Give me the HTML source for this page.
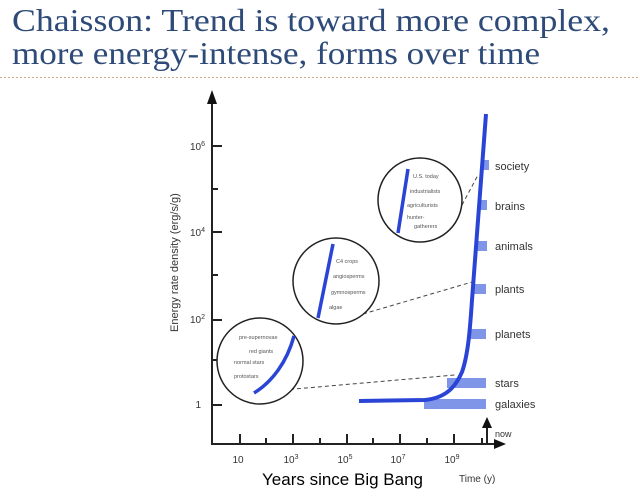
<!DOCTYPE html>
<html><head><style>body{margin:0;background:#fff}svg{display:block}</style></head>
<body>
<svg width="640" height="496" xmlns="http://www.w3.org/2000/svg" font-family="Liberation Sans, sans-serif">
<text x="12" y="31" font-family="Liberation Serif, serif" font-size="32" fill="#2e4a78" textLength="598" lengthAdjust="spacingAndGlyphs">Chaisson: Trend is toward more complex,</text>
<text x="12" y="64" font-family="Liberation Serif, serif" font-size="32" fill="#2e4a78" textLength="528" lengthAdjust="spacingAndGlyphs">more energy-intense, forms over time</text>
<line x1="0" y1="77.5" x2="640" y2="77.5" stroke="#d8a88a" stroke-width="1" stroke-dasharray="2,2"/>
<g stroke="#222" stroke-width="2" fill="none">
<line x1="212" y1="100" x2="212" y2="444"/>
<line x1="211" y1="444" x2="498" y2="444"/>
<line x1="212" y1="146" x2="222" y2="146"/><line x1="212" y1="189" x2="218" y2="189"/>
<line x1="212" y1="232" x2="222" y2="232"/><line x1="212" y1="275" x2="218" y2="275"/>
<line x1="212" y1="320" x2="222" y2="320"/><line x1="212" y1="360" x2="218" y2="360"/>
<line x1="212" y1="405" x2="222" y2="405"/>
<line x1="240" y1="434" x2="240" y2="444"/><line x1="266" y1="438" x2="266" y2="444"/>
<line x1="293" y1="434" x2="293" y2="444"/><line x1="320" y1="438" x2="320" y2="444"/>
<line x1="347" y1="434" x2="347" y2="444"/><line x1="373" y1="438" x2="373" y2="444"/>
<line x1="400" y1="434" x2="400" y2="444"/><line x1="427" y1="438" x2="427" y2="444"/>
<line x1="454" y1="434" x2="454" y2="444"/><line x1="482" y1="438" x2="482" y2="444"/>
<line x1="487" y1="444" x2="487" y2="425"/>
</g>
<polygon points="212,90 207,104 217,104" fill="#111"/>
<polygon points="506,444 494,439 494,449" fill="#111"/>
<polygon points="487,417 482,428 492,428" fill="#111"/>
<g font-size="10" fill="#333">
<text x="205" y="150" text-anchor="end">10<tspan font-size="7" dy="-4">6</tspan></text>
<text x="205" y="236" text-anchor="end">10<tspan font-size="7" dy="-4">4</tspan></text>
<text x="205" y="323" text-anchor="end">10<tspan font-size="7" dy="-4">2</tspan></text>
<text x="201" y="408" text-anchor="end">1</text>
<text x="238" y="463" text-anchor="middle">10</text>
<text x="291" y="463" text-anchor="middle">10<tspan font-size="7" dy="-4">3</tspan></text>
<text x="345" y="463" text-anchor="middle">10<tspan font-size="7" dy="-4">5</tspan></text>
<text x="398" y="463" text-anchor="middle">10<tspan font-size="7" dy="-4">7</tspan></text>
<text x="452" y="463" text-anchor="middle">10<tspan font-size="7" dy="-4">9</tspan></text>
<text x="459" y="482">Time (y)</text>
<text x="495" y="437" font-size="9">now</text>
<text transform="translate(178,332) rotate(-90)" font-size="11">Energy rate density (erg/s/g)</text>
</g>
<text x="262" y="485" font-size="17" fill="#000">Years since Big Bang</text>
<g fill="#7f95e8">
<rect x="424" y="399" width="62" height="10"/>
<rect x="447" y="378" width="39" height="10"/>
<rect x="468" y="329" width="18" height="10"/>
<rect x="472" y="284" width="14" height="10"/>
<rect x="477" y="241" width="10" height="10"/>
<rect x="480" y="200" width="7" height="10"/>
<rect x="482" y="160" width="7" height="10"/>
</g>
<g font-size="11" fill="#333">
<text x="495" y="170">society</text><text x="495" y="210">brains</text>
<text x="495" y="250">animals</text><text x="495" y="293">plants</text>
<text x="495" y="338">planets</text><text x="495" y="387">stars</text>
<text x="495" y="408">galaxies</text>
</g>
<path d="M359,401 L425,400 C445,398 455,388 462,372 C468,355 470,330 472,300 L486,114" stroke="#2a45d6" stroke-width="4" fill="none"/>
<g stroke="#444" stroke-width="1" stroke-dasharray="4,3">
<line x1="283" y1="390" x2="455" y2="375"/>
<line x1="363" y1="314" x2="472" y2="282"/>
<line x1="462" y1="205" x2="478" y2="175"/>
</g>
<g stroke="#222" stroke-width="1.5" fill="#fff">
<circle cx="260" cy="361" r="43"/>
<circle cx="336" cy="281" r="43"/>
<circle cx="420" cy="200" r="42"/>
</g>
<g stroke="#2a45d6" stroke-width="3.5" fill="none">
<path d="M254,393 C272,382 287,362 294,336"/>
<line x1="333" y1="244" x2="318" y2="318"/>
<line x1="408" y1="169" x2="398" y2="233"/>
</g>
<g font-size="5.5" fill="#555">
<text x="239" y="339">pre-supernovae</text>
<text x="249" y="353">red giants</text>
<text x="234" y="364">normal stars</text>
<text x="234" y="378">protostars</text>
<text x="336" y="263">C4 crops</text>
<text x="333" y="278">angiosperms</text>
<text x="331" y="294">gymnosperms</text>
<text x="329" y="309">algae</text>
<text x="413" y="178">U.S. today</text>
<text x="410" y="193">industrialists</text>
<text x="407" y="207">agriculturists</text>
<text x="407" y="219">hunter-</text>
<text x="414" y="228">gatherers</text>
</g>
</svg>
</body></html>
